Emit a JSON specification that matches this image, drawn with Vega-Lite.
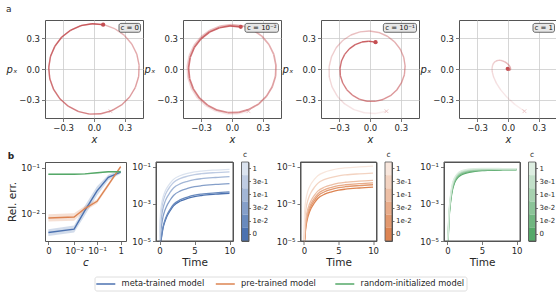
{
  "$schema": "https://vega.github.io/schema/vega-lite/v6.json",
  "padding": {"left": 5, "top": 4, "right": 0, "bottom": 0},
  "config": {
    "font": "DejaVu Sans",
    "view": {"stroke": "#555555", "strokeWidth": 1},
    "axis": {"domain": false, "tickColor": "#555555", "tickSize": 3.5, "tickWidth": 0.8, "labelFontSize": 8.5, "labelColor": "#262626", "labelPadding": 2, "titleFontSize": 10.5, "titleFontWeight": "normal", "titleColor": "#262626", "grid": false, "labelFlush": false, "labelOverlap": false, "tickCount": 10},
    "title": {"fontSize": 9, "fontWeight": "normal", "anchor": "start", "frame": "bounds", "color": "#262626"}
  },
  "datasets": {
    "traj": [
      {"c":"0","t":0,"x":0.160,"p":-0.410},{"c":"0","t":0.25,"x":0.053,"p":-0.437},{"c":"0","t":0.5,"x":-0.056,"p":-0.436},{"c":"0","t":0.75,"x":-0.162,"p":-0.409},{"c":"0","t":1,"x":-0.259,"p":-0.356},{"c":"0","t":1.25,"x":-0.339,"p":-0.281},{"c":"0","t":1.5,"x":-0.398,"p":-0.188},{"c":"0","t":1.75,"x":-0.432,"p":-0.084},{"c":"0","t":2,"x":-0.439,"p":0.025},{"c":"0","t":2.25,"x":-0.419,"p":0.133},{"c":"0","t":2.5,"x":-0.373,"p":0.233},{"c":"0","t":2.75,"x":-0.304,"p":0.318},{"c":"0","t":3,"x":-0.216,"p":0.383},{"c":"0","t":3.25,"x":-0.115,"p":0.425},{"c":"0","t":3.5,"x":-0.006,"p":0.440},{"c":"0","t":3.75,"x":0.103,"p":0.428},{"c":"0","t":4,"x":0.206,"p":0.389},{"c":"0","t":4.25,"x":0.296,"p":0.326},{"c":"0","t":4.5,"x":0.367,"p":0.243},{"c":"0","t":4.75,"x":0.416,"p":0.144},{"c":"0","t":5,"x":0.438,"p":0.037},{"c":"0","t":5.25,"x":0.434,"p":-0.073},{"c":"0","t":5.5,"x":0.402,"p":-0.178},{"c":"0","t":5.75,"x":0.346,"p":-0.272},{"c":"0","t":6,"x":0.268,"p":-0.349},{"c":"0","t":6.25,"x":0.173,"p":-0.404},{"c":"0","t":6.5,"x":0.068,"p":-0.435},{"c":"0","t":6.75,"x":-0.042,"p":-0.438},{"c":"0","t":7,"x":-0.149,"p":-0.414},{"c":"0","t":7.25,"x":-0.247,"p":-0.364},{"c":"0","t":7.5,"x":-0.329,"p":-0.292},{"c":"0","t":7.75,"x":-0.391,"p":-0.201},{"c":"0","t":8,"x":-0.429,"p":-0.098},{"c":"0","t":8.25,"x":-0.440,"p":0.011},{"c":"0","t":8.5,"x":-0.424,"p":0.119},{"c":"0","t":8.75,"x":-0.381,"p":0.220},{"c":"0","t":9,"x":-0.315,"p":0.308},{"c":"0","t":9.25,"x":-0.229,"p":0.376},{"c":"0","t":9.5,"x":-0.128,"p":0.421},{"c":"0","t":9.75,"x":-0.020,"p":0.440},{"c":"0","t":10,"x":0.089,"p":0.431},
      {"c":"1e-2","t":0,"x":0.160,"p":-0.410},{"c":"1e-2","t":0.25,"x":0.053,"p":-0.436},{"c":"1e-2","t":0.5,"x":-0.056,"p":-0.435},{"c":"1e-2","t":0.75,"x":-0.161,"p":-0.407},{"c":"1e-2","t":1,"x":-0.258,"p":-0.354},{"c":"1e-2","t":1.25,"x":-0.337,"p":-0.279},{"c":"1e-2","t":1.5,"x":-0.395,"p":-0.187},{"c":"1e-2","t":1.75,"x":-0.428,"p":-0.083},{"c":"1e-2","t":2,"x":-0.435,"p":0.025},{"c":"1e-2","t":2.25,"x":-0.414,"p":0.132},{"c":"1e-2","t":2.5,"x":-0.368,"p":0.230},{"c":"1e-2","t":2.75,"x":-0.300,"p":0.314},{"c":"1e-2","t":3,"x":-0.213,"p":0.377},{"c":"1e-2","t":3.25,"x":-0.113,"p":0.418},{"c":"1e-2","t":3.5,"x":-0.006,"p":0.432},{"c":"1e-2","t":3.75,"x":0.101,"p":0.420},{"c":"1e-2","t":4,"x":0.202,"p":0.381},{"c":"1e-2","t":4.25,"x":0.290,"p":0.319},{"c":"1e-2","t":4.5,"x":0.359,"p":0.238},{"c":"1e-2","t":4.75,"x":0.406,"p":0.141},{"c":"1e-2","t":5,"x":0.427,"p":0.036},{"c":"1e-2","t":5.25,"x":0.423,"p":-0.071},{"c":"1e-2","t":5.5,"x":0.391,"p":-0.173},{"c":"1e-2","t":5.75,"x":0.336,"p":-0.264},{"c":"1e-2","t":6,"x":0.260,"p":-0.339},{"c":"1e-2","t":6.25,"x":0.168,"p":-0.392},{"c":"1e-2","t":6.5,"x":0.066,"p":-0.421},{"c":"1e-2","t":6.75,"x":-0.041,"p":-0.423},{"c":"1e-2","t":7,"x":-0.144,"p":-0.400},{"c":"1e-2","t":7.25,"x":-0.238,"p":-0.351},{"c":"1e-2","t":7.5,"x":-0.317,"p":-0.281},{"c":"1e-2","t":7.75,"x":-0.376,"p":-0.193},{"c":"1e-2","t":8,"x":-0.412,"p":-0.094},{"c":"1e-2","t":8.25,"x":-0.422,"p":0.011},{"c":"1e-2","t":8.5,"x":-0.406,"p":0.114},{"c":"1e-2","t":8.75,"x":-0.365,"p":0.211},{"c":"1e-2","t":9,"x":-0.301,"p":0.294},{"c":"1e-2","t":9.25,"x":-0.218,"p":0.359},{"c":"1e-2","t":9.5,"x":-0.122,"p":0.401},{"c":"1e-2","t":9.75,"x":-0.019,"p":0.419},{"c":"1e-2","t":10,"x":0.085,"p":0.410},
      {"c":"1e-1","t":0,"x":0.160,"p":-0.410},{"c":"1e-1","t":0.25,"x":0.052,"p":-0.432},{"c":"1e-1","t":0.5,"x":-0.055,"p":-0.425},{"c":"1e-1","t":0.75,"x":-0.156,"p":-0.394},{"c":"1e-1","t":1,"x":-0.246,"p":-0.339},{"c":"1e-1","t":1.25,"x":-0.318,"p":-0.264},{"c":"1e-1","t":1.5,"x":-0.369,"p":-0.174},{"c":"1e-1","t":1.75,"x":-0.396,"p":-0.077},{"c":"1e-1","t":2,"x":-0.397,"p":0.023},{"c":"1e-1","t":2.25,"x":-0.374,"p":0.119},{"c":"1e-1","t":2.5,"x":-0.329,"p":0.206},{"c":"1e-1","t":2.75,"x":-0.265,"p":0.277},{"c":"1e-1","t":3,"x":-0.186,"p":0.330},{"c":"1e-1","t":3.25,"x":-0.098,"p":0.361},{"c":"1e-1","t":3.5,"x":-0.005,"p":0.369},{"c":"1e-1","t":3.75,"x":0.085,"p":0.355},{"c":"1e-1","t":4,"x":0.169,"p":0.318},{"c":"1e-1","t":4.25,"x":0.239,"p":0.264},{"c":"1e-1","t":4.5,"x":0.293,"p":0.194},{"c":"1e-1","t":4.75,"x":0.328,"p":0.114},{"c":"1e-1","t":5,"x":0.341,"p":0.029},{"c":"1e-1","t":5.25,"x":0.334,"p":-0.056},{"c":"1e-1","t":5.5,"x":0.305,"p":-0.135},{"c":"1e-1","t":5.75,"x":0.260,"p":-0.204},{"c":"1e-1","t":6,"x":0.199,"p":-0.259},{"c":"1e-1","t":6.25,"x":0.127,"p":-0.296},{"c":"1e-1","t":6.5,"x":0.049,"p":-0.314},{"c":"1e-1","t":6.75,"x":-0.030,"p":-0.313},{"c":"1e-1","t":7,"x":-0.105,"p":-0.292},{"c":"1e-1","t":7.25,"x":-0.172,"p":-0.253},{"c":"1e-1","t":7.5,"x":-0.226,"p":-0.201},{"c":"1e-1","t":7.75,"x":-0.265,"p":-0.136},{"c":"1e-1","t":8,"x":-0.288,"p":-0.066},{"c":"1e-1","t":8.25,"x":-0.291,"p":0.007},{"c":"1e-1","t":8.5,"x":-0.277,"p":0.078},{"c":"1e-1","t":8.75,"x":-0.246,"p":0.142},{"c":"1e-1","t":9,"x":-0.201,"p":0.196},{"c":"1e-1","t":9.25,"x":-0.144,"p":0.237},{"c":"1e-1","t":9.5,"x":-0.080,"p":0.262},{"c":"1e-1","t":9.75,"x":-0.012,"p":0.270},{"c":"1e-1","t":10,"x":0.054,"p":0.261},
      {"c":"1","t":0,"x":0.160,"p":-0.410},{"c":"1","t":0.25,"x":0.0657,"p":-0.3435},{"c":"1","t":0.5,"x":-0.0114,"p":-0.2729},{"c":"1","t":0.75,"x":-0.0709,"p":-0.2028},{"c":"1","t":1,"x":-0.1132,"p":-0.1371},{"c":"1","t":1.25,"x":-0.1398,"p":-0.0785},{"c":"1","t":1.5,"x":-0.1531,"p":-0.0284},{"c":"1","t":1.75,"x":-0.1550,"p":0.0122},{"c":"1","t":2,"x":-0.1478,"p":0.0431},{"c":"1","t":2.25,"x":-0.1342,"p":0.0648},{"c":"1","t":2.5,"x":-0.1161,"p":0.0781},{"c":"1","t":2.75,"x":-0.0957,"p":0.0842},{"c":"1","t":3,"x":-0.0745,"p":0.0843},{"c":"1","t":3.25,"x":-0.0538,"p":0.0798},{"c":"1","t":3.5,"x":-0.0350,"p":0.0718},{"c":"1","t":3.75,"x":-0.0182,"p":0.0617},{"c":"1","t":4,"x":-0.0042,"p":0.0504},{"c":"1","t":4.25,"x":0.0070,"p":0.0388},{"c":"1","t":4.5,"x":0.0153,"p":0.0277},{"c":"1","t":4.75,"x":0.0209,"p":0.0175},{"c":"1","t":5,"x":0.0241,"p":0.0086},{"c":"1","t":5.5,"x":0.0248,"p":-0.0046},{"c":"1","t":6,"x":0.0205,"p":-0.0118},{"c":"1","t":7,"x":0.0072,"p":-0.0124},{"c":"1","t":8,"x":-0.0019,"p":-0.0054},{"c":"1","t":10,"x":-0.0025,"p":0.0022}
    ],
    "summary": [
      {"m":"meta-trained model","c":0,"e":0.0038,"lo":0.0032,"hi":0.0045},{"m":"meta-trained model","c":0.01,"e":0.0045,"lo":0.0038,"hi":0.0054},{"m":"meta-trained model","c":0.03,"e":0.0115,"lo":0.0090,"hi":0.0147},{"m":"meta-trained model","c":0.1,"e":0.031,"lo":0.0245,"hi":0.039},{"m":"meta-trained model","c":0.3,"e":0.061,"lo":0.053,"hi":0.070},{"m":"meta-trained model","c":1,"e":0.080,"lo":0.073,"hi":0.088},
      {"m":"pre-trained model","c":0,"e":0.0079,"lo":0.0066,"hi":0.0095},{"m":"pre-trained model","c":0.01,"e":0.0083,"lo":0.0069,"hi":0.0100},{"m":"pre-trained model","c":0.03,"e":0.0127,"lo":0.0112,"hi":0.0145},{"m":"pre-trained model","c":0.1,"e":0.0183,"lo":0.0165,"hi":0.0203},{"m":"pre-trained model","c":0.3,"e":0.042,"lo":0.038,"hi":0.046},{"m":"pre-trained model","c":1,"e":0.105,"lo":0.098,"hi":0.112},
      {"m":"random-initialized model","c":0,"e":0.0713,"lo":0.069,"hi":0.0735},{"m":"random-initialized model","c":0.01,"e":0.0715,"lo":0.069,"hi":0.074},{"m":"random-initialized model","c":0.03,"e":0.073,"lo":0.0705,"hi":0.0755},{"m":"random-initialized model","c":0.1,"e":0.077,"lo":0.0745,"hi":0.0795},{"m":"random-initialized model","c":0.3,"e":0.081,"lo":0.0785,"hi":0.0835},{"m":"random-initialized model","c":1,"e":0.081,"lo":0.0785,"hi":0.0835}
    ],
    "models": [{"m":"meta-trained model"},{"m":"pre-trained model"},{"m":"random-initialized model"}],
    "cbar": [{"c":"1"},{"c":"3e-1"},{"c":"1e-1"},{"c":"3e-2"},{"c":"1e-2"},{"c":"0"}],
    "errw": [
      {"m":"meta","t":0.01,"0":1e-8,"1e-2":1e-8,"3e-2":1e-8,"1e-1":1e-8,"3e-1":1e-8,"1":1e-8},
      {"m":"meta","t":0.1,"0":1.9e-6,"1e-2":2.25e-6,"3e-2":9.3e-6,"1e-1":3.22e-5,"3e-1":8.62e-5,"1":1.72e-4},
      {"m":"meta","t":0.2,"0":7.6e-6,"1e-2":9.0e-6,"3e-2":3.46e-5,"1e-1":1.11e-4,"3e-1":2.79e-4,"1":5.19e-4},
      {"m":"meta","t":0.3,"0":1.70e-5,"1e-2":2.01e-5,"3e-2":7.43e-5,"1e-1":2.30e-4,"3e-1":5.53e-4,"1":9.89e-4},
      {"m":"meta","t":0.5,"0":4.78e-5,"1e-2":5.67e-5,"3e-2":1.99e-4,"1e-1":5.85e-4,"3e-1":1.335e-3,"1":2.265e-3},
      {"m":"meta","t":0.75,"0":1.07e-4,"1e-2":1.27e-4,"3e-2":4.28e-4,"1e-1":1.208e-3,"3e-1":2.648e-3,"1":4.316e-3},
      {"m":"meta","t":1,"0":1.90e-4,"1e-2":2.26e-4,"3e-2":7.39e-4,"1e-1":2.028e-3,"3e-1":4.319e-3,"1":6.84e-3},
      {"m":"meta","t":1.5,"0":4.26e-4,"1e-2":5.05e-4,"3e-2":1.59e-3,"1e-1":4.19e-3,"3e-1":8.57e-3,"1":1.304e-2},
      {"m":"meta","t":2,"0":7.94e-4,"1e-2":9.40e-4,"3e-2":2.87e-3,"1e-1":7.33e-3,"3e-1":1.453e-2,"1":2.144e-2},
      {"m":"meta","t":3,"0":1.445e-3,"1e-2":1.711e-3,"3e-2":5.07e-3,"1e-1":1.256e-2,"3e-1":2.417e-2,"1":3.46e-2},
      {"m":"meta","t":4,"0":1.994e-3,"1e-2":2.362e-3,"3e-2":6.88e-3,"1e-1":1.679e-2,"3e-1":3.18e-2,"1":4.478e-2},
      {"m":"meta","t":5,"0":2.51e-3,"1e-2":2.973e-3,"3e-2":8.57e-3,"1e-1":2.066e-2,"3e-1":3.867e-2,"1":5.384e-2},
      {"m":"meta","t":6,"0":2.88e-3,"1e-2":3.414e-3,"3e-2":9.77e-3,"1e-1":2.339e-2,"3e-1":4.349e-2,"1":6.013e-2},
      {"m":"meta","t":8,"0":3.39e-3,"1e-2":4.011e-3,"3e-2":1.139e-2,"1e-1":2.705e-2,"3e-1":4.987e-2,"1":6.84e-2},
      {"m":"meta","t":10,"0":3.8e-3,"1e-2":4.5e-3,"3e-2":1.27e-2,"1e-1":3.0e-2,"3e-1":5.5e-2,"1":7.5e-2},
      {"m":"pre","t":0.01,"0":1e-8,"1e-2":1e-8,"3e-2":1e-8,"1e-1":1e-8,"3e-1":1e-8,"1":1e-8},
      {"m":"pre","t":0.1,"0":8.68e-6,"1e-2":1.18e-5,"3e-2":1.75e-5,"1e-1":2.76e-5,"3e-1":9.25e-5,"1":3.69e-4},
      {"m":"pre","t":0.2,"0":3.01e-5,"1e-2":4.09e-5,"3e-2":5.89e-5,"1e-1":9.05e-5,"3e-1":2.87e-4,"1":1.039e-3},
      {"m":"pre","t":0.3,"0":6.22e-5,"1e-2":8.44e-5,"3e-2":1.197e-4,"1e-1":1.81e-4,"3e-1":5.56e-4,"1":1.901e-3},
      {"m":"pre","t":0.5,"0":1.58e-4,"1e-2":2.145e-4,"3e-2":2.98e-4,"1e-1":4.41e-4,"3e-1":1.3e-3,"1":4.134e-3},
      {"m":"pre","t":0.75,"0":3.26e-4,"1e-2":4.43e-4,"3e-2":6.06e-4,"1e-1":8.83e-4,"3e-1":2.518e-3,"1":7.567e-3},
      {"m":"pre","t":1,"0":5.48e-4,"1e-2":7.44e-4,"3e-2":1.005e-3,"1e-1":1.448e-3,"3e-1":4.037e-3,"1":1.165e-2},
      {"m":"pre","t":1.5,"0":1.131e-3,"1e-2":1.536e-3,"3e-2":2.043e-3,"1e-1":2.896e-3,"3e-1":7.816e-3,"1":2.133e-2},
      {"m":"pre","t":2,"0":1.979e-3,"1e-2":2.687e-3,"3e-2":3.529e-3,"1e-1":4.942e-3,"3e-1":1.301e-2,"1":3.399e-2},
      {"m":"pre","t":3,"0":3.392e-3,"1e-2":4.607e-3,"3e-2":5.978e-3,"1e-1":8.271e-3,"3e-1":2.126e-2,"1":5.326e-2},
      {"m":"pre","t":4,"0":4.534e-3,"1e-2":6.158e-3,"3e-2":7.938e-3,"1e-1":1.091e-2,"3e-1":2.77e-2,"1":6.783e-2},
      {"m":"pre","t":5,"0":5.578e-3,"1e-2":7.576e-3,"3e-2":9.722e-3,"1e-1":1.33e-2,"3e-1":3.346e-2,"1":8.061e-2},
      {"m":"pre","t":6,"0":6.316e-3,"1e-2":8.578e-3,"3e-2":1.098e-2,"1e-1":1.498e-2,"3e-1":3.748e-2,"1":8.941e-2},
      {"m":"pre","t":8,"0":7.303e-3,"1e-2":9.918e-3,"3e-2":1.265e-2,"1e-1":1.721e-2,"3e-1":4.277e-2,"1":0.1009},
      {"m":"pre","t":10,"0":8.1e-3,"1e-2":1.1e-2,"3e-2":1.4e-2,"1e-1":1.9e-2,"3e-1":4.7e-2,"1":0.11},
      {"m":"rand","t":0.01,"0":1e-8,"1e-2":1e-8,"3e-2":1e-8,"1e-1":1e-8,"3e-1":1e-8,"1":1e-8},
      {"m":"rand","t":0.1,"0":1.259e-5,"1e-2":1.513e-5,"3e-2":1.819e-5,"1e-1":2.188e-5,"3e-1":2.63e-5,"1":3.162e-5},
      {"m":"rand","t":0.2,"0":1.0e-4,"1e-2":1.202e-4,"3e-2":1.445e-4,"1e-1":1.738e-4,"3e-1":2.089e-4,"1":2.512e-4},
      {"m":"rand","t":0.3,"0":3.548e-4,"1e-2":4.265e-4,"3e-2":5.127e-4,"1e-1":6.166e-4,"3e-1":7.412e-4,"1":8.913e-4},
      {"m":"rand","t":0.5,"0":1.778e-3,"1e-2":2.137e-3,"3e-2":2.569e-3,"1e-1":3.09e-3,"3e-1":3.714e-3,"1":4.467e-3},
      {"m":"rand","t":0.75,"0":6.31e-3,"1e-2":7.414e-3,"3e-2":8.708e-3,"1e-1":1.023e-2,"3e-1":1.202e-2,"1":1.413e-2},
      {"m":"rand","t":1,"0":1.318e-2,"1e-2":1.5e-2,"3e-2":1.706e-2,"1e-1":1.94e-2,"3e-1":2.208e-2,"1":2.512e-2},
      {"m":"rand","t":1.5,"0":2.692e-2,"1e-2":3.007e-2,"3e-2":3.357e-2,"1e-1":3.75e-2,"3e-1":4.189e-2,"1":4.677e-2},
      {"m":"rand","t":2,"0":3.715e-2,"1e-2":4.112e-2,"3e-2":4.551e-2,"1e-1":5.034e-2,"3e-1":5.573e-2,"1":6.166e-2},
      {"m":"rand","t":3,"0":5.012e-2,"1e-2":5.443e-2,"3e-2":5.914e-2,"1e-1":6.425e-2,"3e-1":6.982e-2,"1":7.586e-2},
      {"m":"rand","t":4,"0":5.754e-2,"1e-2":6.168e-2,"3e-2":6.606e-2,"1e-1":7.077e-2,"3e-1":7.584e-2,"1":8.128e-2},
      {"m":"rand","t":5,"0":6.31e-2,"1e-2":6.67e-2,"3e-2":7.048e-2,"1e-1":7.446e-2,"3e-1":7.869e-2,"1":8.318e-2},
      {"m":"rand","t":6,"0":6.607e-2,"1e-2":6.918e-2,"3e-2":7.241e-2,"1e-1":7.585e-2,"3e-1":7.942e-2,"1":8.318e-2},
      {"m":"rand","t":8,"0":6.918e-2,"1e-2":7.16e-2,"3e-2":7.416e-2,"1e-1":7.672e-2,"3e-1":7.942e-2,"1":8.222e-2},
      {"m":"rand","t":10,"0":7.079e-2,"1e-2":7.277e-2,"3e-2":7.483e-2,"1e-1":7.688e-2,"3e-1":7.907e-2,"1":8.128e-2}
    ]
  },
  "vconcat": [
    {
      "bounds": "flush",
      "spacing": 40,
      "hconcat": [
        {
          "width": 98, "height": 98,
          "title": {"text": "a", "offset": 6},
          "layer": [
            {"data": {"name": "traj"}, "transform": [{"filter": "datum.c == '0'"}, {"window": [{"op": "lead", "field": "x", "as": "x2"}, {"op": "lead", "field": "p", "as": "p2"}], "sort": [{"field": "t", "order": "ascending"}]}, {"filter": "datum.x2 != null"}],
             "mark": {"type": "rule", "color": "#c44e52", "strokeWidth": 1.4},
             "encoding": {
               "x": {"field": "x", "type": "quantitative", "scale": {"domain": [-0.476, 0.476], "nice": false, "zero": false}, "axis": {"values": [-0.3, 0, 0.3], "format": ".1f", "title": "x", "titleFontStyle": "italic", "titleFontSize": 10, "titlePadding": 2, "grid": true, "gridColor": "#cccccc", "gridWidth": 0.8}},
               "y": {"field": "p", "type": "quantitative", "scale": {"domain": [-0.476, 0.476], "nice": false, "zero": false}, "axis": {"values": [-0.3, 0, 0.3], "format": ".1f", "title": "pₓ", "titleFontStyle": "italic", "titleFontSize": 10, "titleAngle": 0, "titleAlign": "right", "titleBaseline": "middle", "titlePadding": 2, "grid": true, "gridColor": "#cccccc", "gridWidth": 0.8}},
               "x2": {"field": "x2"}, "y2": {"field": "p2"},
               "opacity": {"field": "t", "type": "quantitative", "scale": {"domain": [0, 10], "range": [0.1, 0.95]}, "legend": null}
             }},
            {"data": {"name": "traj"}, "transform": [{"filter": "datum.c == '0' && datum.t == 0"}],
             "mark": {"type": "point", "shape": "M-1,-1L1,1M-1,1L1,-1", "size": 14, "filled": false, "stroke": "#c44e52", "strokeWidth": 1, "opacity": 0.3},
             "encoding": {"x": {"field": "x", "type": "quantitative"}, "y": {"field": "p", "type": "quantitative"}}},
            {"data": {"name": "traj"}, "transform": [{"filter": "datum.c == '0' && datum.t == 10"}],
             "mark": {"type": "circle", "size": 18, "color": "#c44e52", "opacity": 1},
             "encoding": {"x": {"field": "x", "type": "quantitative"}, "y": {"field": "p", "type": "quantitative"}}},
            {"data": {"values": [{"label": "c = 0"}]},
             "mark": {"type": "rect", "fill": "#e6e6e6", "stroke": "#444444", "strokeWidth": 0.8, "cornerRadius": 2},
             "encoding": {"x": {"datum": 0.243}, "x2": {"datum": 0.452}, "y": {"datum": 0.443}, "y2": {"datum": 0.357}}},
            {"data": {"values": [{"label": "c = 0"}]},
             "mark": {"type": "text", "align": "center", "baseline": "middle", "fontSize": 7, "color": "#111111"},
             "encoding": {"x": {"datum": 0.3475}, "y": {"datum": 0.4}, "text": {"field": "label"}}}
          ]
        },
        {
          "width": 98, "height": 98,
          "layer": [
            {"data": {"name": "traj"}, "transform": [{"filter": "datum.c == '1e-2'"}, {"window": [{"op": "lead", "field": "x", "as": "x2"}, {"op": "lead", "field": "p", "as": "p2"}], "sort": [{"field": "t", "order": "ascending"}]}, {"filter": "datum.x2 != null"}],
             "mark": {"type": "rule", "color": "#c44e52", "strokeWidth": 1.7},
             "encoding": {
               "x": {"field": "x", "type": "quantitative", "scale": {"domain": [-0.476, 0.476], "nice": false, "zero": false}, "axis": {"values": [-0.3, 0, 0.3], "format": ".1f", "title": "x", "titleFontStyle": "italic", "titleFontSize": 10, "titlePadding": 2, "grid": true, "gridColor": "#cccccc", "gridWidth": 0.8}},
               "y": {"field": "p", "type": "quantitative", "scale": {"domain": [-0.476, 0.476], "nice": false, "zero": false}, "axis": {"values": [-0.3, 0, 0.3], "format": ".1f", "title": "pₓ", "titleFontStyle": "italic", "titleFontSize": 10, "titleAngle": 0, "titleAlign": "right", "titleBaseline": "middle", "titlePadding": 2, "grid": true, "gridColor": "#cccccc", "gridWidth": 0.8}},
               "x2": {"field": "x2"}, "y2": {"field": "p2"},
               "opacity": {"field": "t", "type": "quantitative", "scale": {"domain": [0, 10], "range": [0.1, 0.95]}, "legend": null}
             }},
            {"data": {"name": "traj"}, "transform": [{"filter": "datum.c == '1e-2' && datum.t == 0"}],
             "mark": {"type": "point", "shape": "M-1,-1L1,1M-1,1L1,-1", "size": 14, "filled": false, "stroke": "#c44e52", "strokeWidth": 1, "opacity": 0.3},
             "encoding": {"x": {"field": "x", "type": "quantitative"}, "y": {"field": "p", "type": "quantitative"}}},
            {"data": {"name": "traj"}, "transform": [{"filter": "datum.c == '1e-2' && datum.t == 10"}],
             "mark": {"type": "circle", "size": 18, "color": "#c44e52", "opacity": 1},
             "encoding": {"x": {"field": "x", "type": "quantitative"}, "y": {"field": "p", "type": "quantitative"}}},
            {"data": {"values": [{"label": "c = 10⁻²"}]},
             "mark": {"type": "rect", "fill": "#e6e6e6", "stroke": "#444444", "strokeWidth": 0.8, "cornerRadius": 2},
             "encoding": {"x": {"datum": 0.126}, "x2": {"datum": 0.452}, "y": {"datum": 0.443}, "y2": {"datum": 0.357}}},
            {"data": {"values": [{"label": "c = 10⁻²"}]},
             "mark": {"type": "text", "align": "center", "baseline": "middle", "fontSize": 7, "color": "#111111"},
             "encoding": {"x": {"datum": 0.289}, "y": {"datum": 0.4}, "text": {"field": "label"}}}
          ]
        },
        {
          "width": 98, "height": 98,
          "layer": [
            {"data": {"name": "traj"}, "transform": [{"filter": "datum.c == '1e-1'"}, {"window": [{"op": "lead", "field": "x", "as": "x2"}, {"op": "lead", "field": "p", "as": "p2"}], "sort": [{"field": "t", "order": "ascending"}]}, {"filter": "datum.x2 != null"}],
             "mark": {"type": "rule", "color": "#c44e52", "strokeWidth": 1.4},
             "encoding": {
               "x": {"field": "x", "type": "quantitative", "scale": {"domain": [-0.476, 0.476], "nice": false, "zero": false}, "axis": {"values": [-0.3, 0, 0.3], "format": ".1f", "title": "x", "titleFontStyle": "italic", "titleFontSize": 10, "titlePadding": 2, "grid": true, "gridColor": "#cccccc", "gridWidth": 0.8}},
               "y": {"field": "p", "type": "quantitative", "scale": {"domain": [-0.476, 0.476], "nice": false, "zero": false}, "axis": {"values": [-0.3, 0, 0.3], "format": ".1f", "title": "pₓ", "titleFontStyle": "italic", "titleFontSize": 10, "titleAngle": 0, "titleAlign": "right", "titleBaseline": "middle", "titlePadding": 2, "grid": true, "gridColor": "#cccccc", "gridWidth": 0.8}},
               "x2": {"field": "x2"}, "y2": {"field": "p2"},
               "opacity": {"field": "t", "type": "quantitative", "scale": {"domain": [0, 10], "range": [0.1, 0.95]}, "legend": null}
             }},
            {"data": {"name": "traj"}, "transform": [{"filter": "datum.c == '1e-1' && datum.t == 0"}],
             "mark": {"type": "point", "shape": "M-1,-1L1,1M-1,1L1,-1", "size": 14, "filled": false, "stroke": "#c44e52", "strokeWidth": 1, "opacity": 0.3},
             "encoding": {"x": {"field": "x", "type": "quantitative"}, "y": {"field": "p", "type": "quantitative"}}},
            {"data": {"name": "traj"}, "transform": [{"filter": "datum.c == '1e-1' && datum.t == 10"}],
             "mark": {"type": "circle", "size": 18, "color": "#c44e52", "opacity": 1},
             "encoding": {"x": {"field": "x", "type": "quantitative"}, "y": {"field": "p", "type": "quantitative"}}},
            {"data": {"values": [{"label": "c = 10⁻¹"}]},
             "mark": {"type": "rect", "fill": "#e6e6e6", "stroke": "#444444", "strokeWidth": 0.8, "cornerRadius": 2},
             "encoding": {"x": {"datum": 0.130}, "x2": {"datum": 0.452}, "y": {"datum": 0.443}, "y2": {"datum": 0.357}}},
            {"data": {"values": [{"label": "c = 10⁻¹"}]},
             "mark": {"type": "text", "align": "center", "baseline": "middle", "fontSize": 7, "color": "#111111"},
             "encoding": {"x": {"datum": 0.291}, "y": {"datum": 0.4}, "text": {"field": "label"}}}
          ]
        },
        {
          "width": 98, "height": 98,
          "layer": [
            {"data": {"name": "traj"}, "transform": [{"filter": "datum.c == '1'"}, {"window": [{"op": "lead", "field": "x", "as": "x2"}, {"op": "lead", "field": "p", "as": "p2"}], "sort": [{"field": "t", "order": "ascending"}]}, {"filter": "datum.x2 != null"}],
             "mark": {"type": "rule", "color": "#c44e52", "strokeWidth": 1.4},
             "encoding": {
               "x": {"field": "x", "type": "quantitative", "scale": {"domain": [-0.476, 0.476], "nice": false, "zero": false}, "axis": {"values": [-0.3, 0, 0.3], "format": ".1f", "title": "x", "titleFontStyle": "italic", "titleFontSize": 10, "titlePadding": 2, "grid": true, "gridColor": "#cccccc", "gridWidth": 0.8}},
               "y": {"field": "p", "type": "quantitative", "scale": {"domain": [-0.476, 0.476], "nice": false, "zero": false}, "axis": {"values": [-0.3, 0, 0.3], "format": ".1f", "title": "pₓ", "titleFontStyle": "italic", "titleFontSize": 10, "titleAngle": 0, "titleAlign": "right", "titleBaseline": "middle", "titlePadding": 2, "grid": true, "gridColor": "#cccccc", "gridWidth": 0.8}},
               "x2": {"field": "x2"}, "y2": {"field": "p2"},
               "opacity": {"field": "t", "type": "quantitative", "scale": {"domain": [0, 10], "range": [0.1, 0.95]}, "legend": null}
             }},
            {"data": {"name": "traj"}, "transform": [{"filter": "datum.c == '1' && datum.t == 0"}],
             "mark": {"type": "point", "shape": "M-1,-1L1,1M-1,1L1,-1", "size": 14, "filled": false, "stroke": "#c44e52", "strokeWidth": 1, "opacity": 0.3},
             "encoding": {"x": {"field": "x", "type": "quantitative"}, "y": {"field": "p", "type": "quantitative"}}},
            {"data": {"name": "traj"}, "transform": [{"filter": "datum.c == '1' && datum.t == 10"}],
             "mark": {"type": "circle", "size": 18, "color": "#c44e52", "opacity": 1},
             "encoding": {"x": {"field": "x", "type": "quantitative"}, "y": {"field": "p", "type": "quantitative"}}},
            {"data": {"values": [{"label": "c = 1"}]},
             "mark": {"type": "rect", "fill": "#e6e6e6", "stroke": "#444444", "strokeWidth": 0.8, "cornerRadius": 2},
             "encoding": {"x": {"datum": 0.243}, "x2": {"datum": 0.452}, "y": {"datum": 0.443}, "y2": {"datum": 0.357}}},
            {"data": {"values": [{"label": "c = 1"}]},
             "mark": {"type": "text", "align": "center", "baseline": "middle", "fontSize": 7, "color": "#111111"},
             "encoding": {"x": {"datum": 0.3475}, "y": {"datum": 0.4}, "text": {"field": "label"}}}
          ]
        }
      ]
    },
    {
      "spacing": 8,
      "resolve": {"scale": {"stroke": "independent", "fill": "independent"}},
      "vconcat": [
        {
          "bounds": "flush",
          "spacing": 8.5,
          "resolve": {"scale": {"stroke": "independent", "fill": "independent"}},
          "hconcat": [
            {
              "width": 81, "height": 79,
              "title": {"text": "b", "fontWeight": "bold", "offset": 1},
              "data": {"name": "summary"},
              "layer": [
                {"mark": {"type": "area", "opacity": 0.25},
                 "encoding": {
                   "x": {"field": "c", "type": "quantitative", "scale": {"type": "symlog", "constant": 0.0009, "domain": [-0.00035, 1.671], "nice": false, "zero": false}, "axis": {"values": [0, 0.01, 0.1, 1], "tickCount": 10, "labelExpr": "datum.value == 0 ? '0' : datum.value == 1 ? '1' : datum.value < 0.05 ? '10⁻²' : '10⁻¹'", "title": "c", "titleFontStyle": "italic", "titlePadding": 2}},
                   "y": {"field": "lo", "type": "quantitative", "scale": {"type": "log", "domain": [0.00248, 0.1326], "nice": false}, "axis": {"values": [0.01, 0.1], "tickCount": 10, "labelExpr": "datum.value > 0.05 ? '10⁻¹' : '10⁻²'", "title": "Rel. err.", "titlePadding": 3}},
                   "y2": {"field": "hi"},
                   "fill": {"field": "m", "type": "nominal", "scale": {"domain": ["meta-trained model", "pre-trained model", "random-initialized model"], "range": ["#4c72b0", "#dd8452", "#55a868"]}, "legend": null}
                 }},
                {"mark": {"type": "line", "strokeWidth": 1.4},
                 "encoding": {
                   "x": {"field": "c", "type": "quantitative"},
                   "y": {"field": "e", "type": "quantitative"},
                   "stroke": {"field": "m", "type": "nominal", "scale": {"domain": ["meta-trained model", "pre-trained model", "random-initialized model"], "range": ["#4c72b0", "#dd8452", "#55a868"]}, "legend": null}
                 }}
              ]
            },
            {"width": 13, "height": 79, "data": {"values": [{"a": 1}]}, "mark": {"type": "point", "opacity": 0}, "view": {"stroke": "transparent"}},
            {
              "width": 77, "height": 79,
              "layer": [
                {"data": {"name": "errw"},
                 "transform": [{"filter": "datum.m == 'meta'"}, {"fold": ["0", "1e-2", "3e-2", "1e-1", "3e-1", "1"], "as": ["c", "e"]}],
                 "mark": {"type": "line", "strokeWidth": 1.3, "interpolate": "monotone"},
                 "encoding": {
                   "x": {"field": "t", "type": "quantitative", "scale": {"domain": [-0.5, 10.5], "nice": false, "zero": false}, "axis": {"values": [0, 5, 10], "title": "Time", "titlePadding": 2}},
                   "y": {"field": "e", "type": "quantitative", "scale": {"type": "log", "domain": [0.00001, 0.186], "nice": false, "clamp": true}, "axis": {"values": [0.00001, 0.001, 0.1], "labelExpr": "datum.value > 0.01 ? '10⁻¹' : datum.value > 0.0001 ? '10⁻³' : '10⁻⁵'", "title": null}},
                   "stroke": {"field": "c", "type": "nominal", "scale": {"domain": ["1", "3e-1", "1e-1", "3e-2", "1e-2", "0"], "range": ["#DBE3EF", "#BFCCE3", "#A2B6D6", "#859FC9", "#698ABD", "#4C72B0"]}, "legend": null}
                 }},
                {"data": {"values": [{"f": 1}]}, "mark": {"type": "rect", "fillOpacity": 0, "stroke": "#555555", "strokeWidth": 1}}
              ]
            },
            {
              "width": 7, "height": 79,
              "title": {"text": "c", "anchor": "middle", "frame": "group", "fontSize": 7.5, "offset": 3},
              "layer": [
                {"data": {"name": "cbar"},
                 "mark": {"type": "rect"},
                 "encoding": {
                   "y": {"field": "c", "type": "nominal", "sort": null, "scale": {"domain": ["1", "3e-1", "1e-1", "3e-2", "1e-2", "0"], "paddingInner": 0, "paddingOuter": 0}, "axis": {"orient": "right", "title": null, "labelFontSize": 7, "tickSize": 2, "labelPadding": 1.5}},
                   "fill": {"field": "c", "type": "nominal", "scale": {"domain": ["1", "3e-1", "1e-1", "3e-2", "1e-2", "0"], "range": ["#DBE3EF", "#BFCCE3", "#A2B6D6", "#859FC9", "#698ABD", "#4C72B0"]}, "legend": null}
                 }},
                {"data": {"values": [{"f": 1}]}, "mark": {"type": "rect", "fillOpacity": 0, "stroke": "#555555", "strokeWidth": 0.8}}
              ]
            },
            {"width": 35, "height": 79, "data": {"values": [{"a": 1}]}, "mark": {"type": "point", "opacity": 0}, "view": {"stroke": "transparent"}},
            {
              "width": 76, "height": 79,
              "layer": [
                {"data": {"name": "errw"},
                 "transform": [{"filter": "datum.m == 'pre'"}, {"fold": ["0", "1e-2", "3e-2", "1e-1", "3e-1", "1"], "as": ["c", "e"]}],
                 "mark": {"type": "line", "strokeWidth": 1.3, "interpolate": "monotone"},
                 "encoding": {
                   "x": {"field": "t", "type": "quantitative", "scale": {"domain": [-0.5, 10.5], "nice": false, "zero": false}, "axis": {"values": [0, 5, 10], "title": "Time", "titlePadding": 2}},
                   "y": {"field": "e", "type": "quantitative", "scale": {"type": "log", "domain": [0.00001, 0.186], "nice": false, "clamp": true}, "axis": {"values": [0.00001, 0.001, 0.1], "labelExpr": "datum.value > 0.01 ? '10⁻¹' : datum.value > 0.0001 ? '10⁻³' : '10⁻⁵'", "title": null}},
                   "stroke": {"field": "c", "type": "nominal", "scale": {"domain": ["1", "3e-1", "1e-1", "3e-2", "1e-2", "0"], "range": ["#F8E6DC", "#F3D3C1", "#EDBFA5", "#E8AB89", "#E2986E", "#DD8452"]}, "legend": null}
                 }},
                {"data": {"values": [{"f": 1}]}, "mark": {"type": "rect", "fillOpacity": 0, "stroke": "#555555", "strokeWidth": 1}}
              ]
            },
            {
              "width": 7, "height": 79,
              "title": {"text": "c", "anchor": "middle", "frame": "group", "fontSize": 7.5, "offset": 3},
              "layer": [
                {"data": {"name": "cbar"},
                 "mark": {"type": "rect"},
                 "encoding": {
                   "y": {"field": "c", "type": "nominal", "sort": null, "scale": {"domain": ["1", "3e-1", "1e-1", "3e-2", "1e-2", "0"], "paddingInner": 0, "paddingOuter": 0}, "axis": {"orient": "right", "title": null, "labelFontSize": 7, "tickSize": 2, "labelPadding": 1.5}},
                   "fill": {"field": "c", "type": "nominal", "scale": {"domain": ["1", "3e-1", "1e-1", "3e-2", "1e-2", "0"], "range": ["#F8E6DC", "#F3D3C1", "#EDBFA5", "#E8AB89", "#E2986E", "#DD8452"]}, "legend": null}
                 }},
                {"data": {"values": [{"f": 1}]}, "mark": {"type": "rect", "fillOpacity": 0, "stroke": "#555555", "strokeWidth": 0.8}}
              ]
            },
            {"width": 35, "height": 79, "data": {"values": [{"a": 1}]}, "mark": {"type": "point", "opacity": 0}, "view": {"stroke": "transparent"}},
            {
              "width": 76, "height": 79,
              "layer": [
                {"data": {"name": "errw"},
                 "transform": [{"filter": "datum.m == 'rand'"}, {"fold": ["0", "1e-2", "3e-2", "1e-1", "3e-1", "1"], "as": ["c", "e"]}],
                 "mark": {"type": "line", "strokeWidth": 1.3, "interpolate": "monotone"},
                 "encoding": {
                   "x": {"field": "t", "type": "quantitative", "scale": {"domain": [-0.5, 10.5], "nice": false, "zero": false}, "axis": {"values": [0, 5, 10], "title": "Time", "titlePadding": 2}},
                   "y": {"field": "e", "type": "quantitative", "scale": {"type": "log", "domain": [0.00001, 0.186], "nice": false, "clamp": true}, "axis": {"values": [0.00001, 0.001, 0.1], "labelExpr": "datum.value > 0.01 ? '10⁻¹' : datum.value > 0.0001 ? '10⁻³' : '10⁻⁵'", "title": null}},
                   "stroke": {"field": "c", "type": "nominal", "scale": {"domain": ["1", "3e-1", "1e-1", "3e-2", "1e-2", "0"], "range": ["#DDEEE1", "#C2E0C9", "#A7D2B0", "#8BC498", "#70B680", "#55A868"]}, "legend": null}
                 }},
                {"data": {"values": [{"f": 1}]}, "mark": {"type": "rect", "fillOpacity": 0, "stroke": "#555555", "strokeWidth": 1}}
              ]
            },
            {
              "width": 7, "height": 79,
              "title": {"text": "c", "anchor": "middle", "frame": "group", "fontSize": 7.5, "offset": 3},
              "layer": [
                {"data": {"name": "cbar"},
                 "mark": {"type": "rect"},
                 "encoding": {
                   "y": {"field": "c", "type": "nominal", "sort": null, "scale": {"domain": ["1", "3e-1", "1e-1", "3e-2", "1e-2", "0"], "paddingInner": 0, "paddingOuter": 0}, "axis": {"orient": "right", "title": null, "labelFontSize": 7, "tickSize": 2, "labelPadding": 1.5}},
                   "fill": {"field": "c", "type": "nominal", "scale": {"domain": ["1", "3e-1", "1e-1", "3e-2", "1e-2", "0"], "range": ["#DDEEE1", "#C2E0C9", "#A7D2B0", "#8BC498", "#70B680", "#55A868"]}, "legend": null}
                 }},
                {"data": {"values": [{"f": 1}]}, "mark": {"type": "rect", "fillOpacity": 0, "stroke": "#555555", "strokeWidth": 0.8}}
              ]
            }
          ]
        },
        {
          "bounds": "flush",
          "spacing": 0,
          "hconcat": [
            {"width": 49.4, "height": 14, "data": {"values": [{"a": 1}]}, "mark": {"type": "point", "opacity": 0}, "view": {"stroke": "transparent"}},
            {
              "width": 372, "height": 14,
              "view": {"stroke": "transparent"},
              "layer": [
                {"data": {"values": [{"box": 1}]}, "mark": {"type": "rect", "fill": "#ffffff", "stroke": "#d6d6d6", "strokeWidth": 0.8, "cornerRadius": 2}},
                {"data": {"name": "models"},
                 "mark": {"type": "point", "shape": "M0,0H2", "size": 361, "filled": false, "strokeWidth": 1.5, "xOffset": 1.3, "opacity": 1},
                 "encoding": {
                   "x": {"field": "m", "type": "nominal", "sort": null, "bandPosition": 0, "scale": {"type": "band", "domain": ["meta-trained model", "pre-trained model", "random-initialized model"], "paddingInner": 0, "paddingOuter": 0.0565, "align": 0}, "axis": null},
                   "stroke": {"field": "m", "type": "nominal", "scale": {"domain": ["meta-trained model", "pre-trained model", "random-initialized model"], "range": ["#4c72b0", "#dd8452", "#55a868"]}, "legend": null}
                 }},
                {"data": {"name": "models"},
                 "mark": {"type": "text", "align": "left", "baseline": "middle", "dx": 26.6, "fontSize": 8.3, "color": "#262626"},
                 "encoding": {
                   "x": {"field": "m", "type": "nominal", "sort": null, "bandPosition": 0},
                   "text": {"field": "m"}
                 }}
              ]
            }
          ]
        }
      ]
    }
  ],
  "spacing": 5,
  "resolve": {"scale": {"stroke": "independent", "fill": "independent", "opacity": "independent"}}
}
